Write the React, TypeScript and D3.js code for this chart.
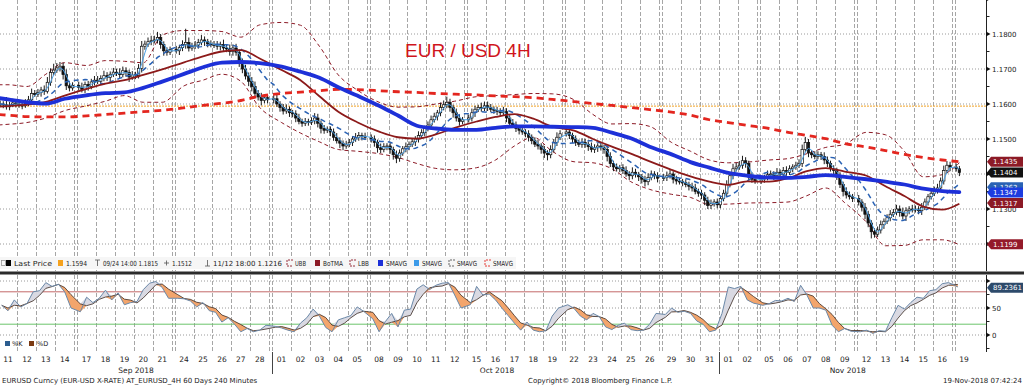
import { useEffect, useRef } from 'react'
import * as d3 from 'd3'

// trading days shown, 6 four-hour bars each (last day partial)
const days = [
  '2018-09-11', '2018-09-12', '2018-09-13', '2018-09-14', '2018-09-17', '2018-09-18', '2018-09-19', '2018-09-20', '2018-09-21',
  '2018-09-24', '2018-09-25', '2018-09-26', '2018-09-27', '2018-09-28',
  '2018-10-01', '2018-10-02', '2018-10-03', '2018-10-04', '2018-10-05',
  '2018-10-08', '2018-10-09', '2018-10-10', '2018-10-11', '2018-10-12',
  '2018-10-15', '2018-10-16', '2018-10-17', '2018-10-18', '2018-10-19',
  '2018-10-22', '2018-10-23', '2018-10-24', '2018-10-25', '2018-10-26',
  '2018-10-29', '2018-10-30', '2018-10-31',
  '2018-11-01', '2018-11-02',
  '2018-11-05', '2018-11-06', '2018-11-07', '2018-11-08', '2018-11-09',
  '2018-11-12', '2018-11-13', '2018-11-14', '2018-11-15', '2018-11-16',
  '2018-11-19',
]
const monthNames: Record<string, string> = { '2018-09': 'Sep 2018', '2018-10': 'Oct 2018', '2018-11': 'Nov 2018' }

// 4H closes, pips above 1.1000
const closes = [
  600, 598, 592, 597, 603, 600, 597, 595, 602, 612, 630, 628, 633, 640, 636, 662, 690, 697,
  703, 708, 684, 652, 646, 653, 648, 641, 656, 650, 663, 668, 665, 673, 681, 676, 685, 691,
  688, 684, 695, 690, 677, 683, 681, 702, 765, 771, 778, 781, 783, 790, 770, 752, 748, 756,
  752, 761, 770, 776, 760, 765, 768, 776, 783, 778, 772, 770, 768, 765, 770, 760, 758, 750,
  760, 748, 720, 700, 680, 665, 650, 630, 620, 610, 618, 612,
  615, 600, 590, 580, 585, 575, 572, 560, 550, 545, 550, 548, 552, 560, 545, 530, 525, 528,
  520, 505, 495, 488, 480, 485, 490, 500, 505, 510, 508, 505,
  500, 490, 475, 470, 478, 480, 470, 455, 445, 460, 472, 478, 485, 492, 500, 510, 518, 530,
  540, 555, 565, 575, 590, 598, 605, 590, 575, 560, 550, 555,
  560, 575, 585, 590, 588, 595, 590, 585, 582, 580, 575, 578, 560, 545, 540, 530, 525, 520,
  515, 505, 495, 485, 480, 470, 460, 455, 470, 490, 505, 515,
  520, 510, 500, 490, 485, 490, 485, 478, 470, 475, 480, 475, 470, 450, 430, 420, 415, 418,
  410, 400, 395, 405, 398, 392, 385, 378, 390, 400, 395, 388,
  390, 395, 400, 385, 380, 378, 375, 370, 365, 360, 350, 345, 340, 325, 310, 315, 320, 312,
  330, 345, 370, 395, 415, 420, 425, 438, 430, 395, 385, 380,
  385, 390, 398, 400, 395, 405, 400, 410, 405, 415, 420, 425, 430, 470, 490, 460, 455, 450,
  455, 450, 440, 430, 415, 410, 395, 370, 350, 340, 335, 330,
  320, 305, 285, 260, 235, 228, 240, 255, 265, 275, 285, 290, 300, 290, 280, 295, 300, 298,
  300, 295, 305, 320, 335, 345, 354, 360, 380, 410, 425, 420,
  415, 404,
]
// wick lengths above / below each body, pips
const wickUp = [
  10, 8, 22, 9, 12, 8, 9, 7, 12, 11, 14, 10, 10, 9, 13, 15, 12, 18, 14, 12, 10, 15, 12, 9,
  11, 13, 8, 10, 9, 12, 12, 9, 14, 10, 8, 12, 10, 14, 12, 10, 8, 11, 9, 12, 15, 10, 12, 14,
  12, 16, 10, 9, 10, 8, 10, 8, 12, 39, 14, 10, 12, 10, 14, 10, 8, 10, 10, 12, 8, 14, 10, 12,
  10, 12, 8, 10, 12, 10, 12, 14, 10, 12, 10, 8,
  10, 12, 8, 10, 14, 8, 8, 10, 12, 8, 10, 8, 10, 14, 12, 8, 10, 8, 8, 10, 12, 10, 8, 10,
  10, 8, 12, 10, 8, 10,
  8, 10, 8, 12, 10, 8, 10, 8, 12, 10, 8, 12, 8, 10, 8, 12, 10, 8, 10, 12, 10, 8, 14, 12,
  16, 10, 8, 12, 10, 8,
  10, 12, 10, 8, 14, 12, 12, 10, 8, 10, 8, 14, 10, 8, 12, 10, 8, 10, 8, 10, 8, 10, 12, 8,
  10, 8, 12, 10, 14, 10,
  12, 10, 8, 10, 8, 12, 10, 8, 12, 10, 8, 10, 8, 10, 12, 8, 10, 8, 10, 12, 8, 14, 10, 8,
  8, 10, 12, 10, 8, 10,
  10, 12, 14, 8, 10, 8, 8, 10, 8, 10, 12, 8, 10, 8, 10, 12, 8, 10,
  8, 10, 12, 10, 14, 12, 12, 14, 10, 8, 10, 8,
  10, 8, 12, 10, 8, 12, 8, 10, 12, 10, 8, 10, 12, 14, 16, 10, 8, 10, 10, 8, 12, 10, 8, 10,
  8, 10, 8, 12, 10, 8,
  10, 8, 12, 10, 8, 10, 10, 12, 8, 10, 12, 10, 12, 10, 14, 10, 8, 12, 10, 8, 12, 10, 8, 10,
  10, 12, 10, 14, 12, 10,
  10, 8,
]
const wickDn = [
  8, 10, 8, 10, 6, 10, 8, 10, 6, 8, 10, 8, 8, 12, 10, 6, 10, 8, 8, 10, 14, 12, 10, 8,
  10, 8, 10, 12, 8, 10, 8, 10, 8, 10, 12, 8, 8, 10, 8, 12, 14, 8, 10, 8, 12, 10, 8, 10,
  8, 10, 12, 14, 10, 8, 8, 12, 10, 12, 10, 8, 8, 10, 8, 12, 10, 8, 8, 10, 12, 8, 10, 12,
  12, 10, 14, 12, 10, 14, 14, 12, 10, 14, 8, 10,
  10, 8, 12, 10, 8, 12, 10, 12, 8, 10, 8, 10, 8, 10, 12, 14, 10, 8, 12, 10, 8, 14, 12, 8,
  8, 10, 8, 10, 12, 8,
  10, 12, 14, 10, 8, 10, 12, 14, 14, 10, 8, 10, 10, 8, 12, 10, 8, 10, 8, 10, 8, 12, 10, 8,
  10, 12, 14, 10, 12, 8,
  8, 10, 12, 8, 10, 8, 10, 8, 10, 12, 10, 8, 12, 10, 8, 10, 12, 8, 10, 12, 10, 8, 10, 12,
  14, 16, 10, 8, 10, 8,
  8, 10, 12, 10, 8, 10, 10, 12, 8, 10, 12, 8, 12, 14, 10, 12, 8, 10, 10, 8, 12, 10, 8, 12,
  12, 14, 10, 8, 10, 12,
  8, 10, 8, 12, 10, 8, 10, 8, 12, 10, 8, 10, 12, 14, 10, 10, 8, 10,
  10, 8, 10, 8, 10, 8, 8, 10, 12, 14, 10, 8,
  8, 10, 8, 10, 12, 8, 10, 8, 10, 8, 10, 8, 8, 10, 8, 12, 10, 8, 8, 10, 12, 10, 8, 10,
  12, 10, 14, 10, 8, 10,
  10, 12, 14, 12, 19, 10, 8, 10, 12, 8, 10, 8, 8, 12, 10, 14, 10, 8, 8, 10, 12, 8, 10, 8,
  8, 10, 8, 10, 8, 12,
  8, 10,
]

// indicator lines, read at window start, at each day's middle and at the last bar
const smavgBlue = [
  1.1617, 1.1613, 1.1605, 1.1601, 1.1615, 1.1625, 1.1631, 1.1633, 1.1646, 1.1664,
  1.1686, 1.1705, 1.1718, 1.172, 1.1717,
  1.1707, 1.1692, 1.1675, 1.1648, 1.1624,
  1.1595, 1.1567, 1.1538, 1.153, 1.1526,
  1.1526, 1.1532, 1.1536, 1.1536, 1.1535,
  1.1534, 1.1532, 1.1518, 1.1502, 1.1478,
  1.1456, 1.1434, 1.1418,
  1.1403, 1.1395,
  1.139, 1.1389, 1.1392, 1.1397, 1.1392,
  1.1385, 1.1378, 1.137, 1.1358, 1.1351,
  1.1348,
]
const botma = [
  1.1592, 1.1594, 1.1598, 1.1606, 1.1624, 1.1643, 1.1658, 1.1668, 1.1683, 1.1699,
  1.1719, 1.1736, 1.175, 1.1754, 1.173,
  1.1697, 1.1668, 1.1622, 1.1578, 1.1548,
  1.1521, 1.1505, 1.1501, 1.1513, 1.1532,
  1.155, 1.1563, 1.1571, 1.1558, 1.1535,
  1.1524, 1.15, 1.1478, 1.1458, 1.1436,
  1.1412, 1.1393, 1.1378,
  1.1369, 1.1379,
  1.1378, 1.1388, 1.1408, 1.1417, 1.1407,
  1.1395, 1.1365, 1.1337, 1.1307, 1.1298,
  1.1315,
]
const ubb = [
  1.1655, 1.1655, 1.165, 1.1685, 1.1718, 1.171, 1.1724, 1.1722, 1.1718, 1.1797,
  1.181, 1.181, 1.1807, 1.1791, 1.1826,
  1.1833, 1.1825, 1.1765, 1.1683, 1.164,
  1.1605, 1.1591, 1.1592, 1.16, 1.1608,
  1.1621, 1.1624, 1.1627, 1.163, 1.1629,
  1.1612, 1.157, 1.1543, 1.1544, 1.1536,
  1.149, 1.1465, 1.144,
  1.1432, 1.1434,
  1.144, 1.1444, 1.1458, 1.1476, 1.1485,
  1.1519, 1.1512, 1.1465, 1.1392, 1.1398,
  1.1432,
]
const lbb = [
  1.154, 1.1542, 1.1547, 1.156, 1.1581, 1.1595, 1.1608, 1.1624, 1.1605, 1.1605,
  1.1652, 1.1668, 1.1685, 1.1665, 1.159,
  1.1547, 1.1517, 1.1492, 1.147, 1.1465,
  1.1458, 1.1447, 1.143, 1.1416, 1.1412,
  1.1418, 1.144, 1.148, 1.1505, 1.1465,
  1.1435, 1.1432, 1.1415, 1.1378, 1.1356,
  1.1342, 1.1333, 1.1313,
  1.1314, 1.1317,
  1.1318, 1.132, 1.1338, 1.136, 1.1318,
  1.1262, 1.1195, 1.1196, 1.1212, 1.1212,
  1.1198,
]
const smavgRed = [
  1.157, 1.1568, 1.1564, 1.1563, 1.1563, 1.1566, 1.157, 1.1574, 1.1578, 1.1582,
  1.1589, 1.1596, 1.1602, 1.161, 1.1622,
  1.163, 1.1634, 1.1638, 1.1642, 1.1641,
  1.1638, 1.1635, 1.1633, 1.163, 1.1628,
  1.1626, 1.1623, 1.1621, 1.1618, 1.1613,
  1.1607, 1.1601, 1.1596, 1.159, 1.1584,
  1.1577, 1.1568, 1.1555,
  1.1547, 1.1539,
  1.153, 1.1519, 1.151, 1.1501, 1.1487,
  1.1477, 1.1467, 1.1456, 1.1447, 1.144,
  1.1435,
]

// stochastic %K, three readings per day
const stochK = [
  55, 45, 65, 52, 58, 80, 82, 97, 90, 94, 80, 50, 43, 70, 60, 68, 83, 65, 78, 56, 60, 62, 84, 96, 99, 88, 68,
  68, 67, 63, 52, 60, 45, 42, 24, 32, 20, 6, 12, 6, 9, 18,
  16, 13, 9, 6, 22, 32, 48, 35, 14, 6, 28, 32, 36, 52, 44,
  30, 6, 25, 40, 15, 46, 48, 85, 93, 84, 92, 96, 97, 74, 50,
  56, 90, 74, 76, 65, 50, 36, 22, 9, 24, 9, 6, 8, 35, 50,
  56, 49, 35, 28, 40, 34, 15, 10, 18, 22, 10, 8, 9, 20, 40,
  38, 50, 42, 44, 40, 26, 20, 6, 9,
  40, 89, 86, 90, 65, 59,
  55, 58, 64, 63, 68, 62, 92, 74, 50, 50, 46, 18, 6, 12, 7,
  6, 9, 3, 8, 7, 32, 55, 48, 60, 70, 68, 82, 84, 95, 97,
  89,
]

const priceTicks = [1.12, 1.13, 1.14, 1.15, 1.16, 1.17, 1.18, 1.19]
const stochTicks = [0, 50, 100]
const stochLabels = [0, 50]
const refLevel = 1.1594

const priceTags = [
  { v: 1.1435, c: '#8c1a26' },
  { v: 1.1404, c: '#111111' },
  { v: 1.1362, c: '#2a62b4' },
  { v: 1.1347, c: '#1d3ce0' },
  { v: 1.1317, c: '#8c1a26' },
  { v: 1.1199, c: '#941a2a' },
]
const stochTag = { v: 89.2361, c: '#2d4a6b' }

const legendItems = [
  { icon: 'sq', c: '#000000', text: 'Last Price', x: 6, w: 38 },
  { icon: 'sq', c: '#f5a21e', text: '1.1594', x: 58, w: 21 },
  { icon: 'hi', c: '#555555', text: '09/24 14:00 1.1815', x: 95, w: 55 },
  { icon: 'plus', c: '#555555', text: '1.1512', x: 164, w: 20 },
  { icon: 'lo', c: '#555555', text: '11/12 18:00 1.1216', x: 205, w: 69 },
  { icon: 'dash', c: '#8c1a26', text: 'UBB', x: 287, w: 11 },
  { icon: 'sq', c: '#8c1a26', text: 'BoTMA', x: 315, w: 20 },
  { icon: 'dash', c: '#8c1a26', text: 'LBB', x: 350, w: 11 },
  { icon: 'sq', c: '#1d30d8', text: 'SMAVG', x: 378, w: 21 },
  { icon: 'sq', c: '#3d9be9', text: 'SMAVG', x: 414, w: 20 },
  { icon: 'dash', c: '#555555', text: 'SMAVG', x: 449, w: 20 },
  { icon: 'dash', c: '#e3261f', text: 'SMAVG', x: 485, w: 20 },
]

const FONT = "'DejaVu Sans', Verdana, sans-serif"

export default function App() {
  const svgRef = useRef<SVGSVGElement>(null)

  useEffect(() => {
    if (!svgRef.current) return
    const svg = d3.select(svgRef.current)
    svg.selectAll('*').remove()

    const axisX = 986
    const mainBottom = 271
    const stTop = 275
    const stBottom = 352
    const gapU = 3 / 18.9

    // day start in "day units"; weekends leave a small gap
    let wk = 0
    const dayStart = days.map((d, i) => {
      if (i > 0 && Date.parse(d) - Date.parse(days[i - 1]) > 86400000) wk++
      return i + wk * gapU
    })
    const x = d3.scaleLinear().domain([0, 1]).range([-1.45, 17.45])
    const y = d3.scaleLinear().domain([1.12, 1.18]).range([244, 34])
    const yS = d3.scaleLinear().domain([0, 100]).range([335, 281])
    const px = (p: number) => 1.1 + p / 10000

    const barPos = closes.map((_, b) => dayStart[Math.floor(b / 6)] + ((b % 6) + 0.5) / 6)
    const lastDay = days.length - 1
    const indPos = [0, ...dayStart.slice(0, lastDay).map(s => s + 0.5), barPos[barPos.length - 1]]
    const kPos = stochK.map((_, s) => dayStart[Math.floor(s / 3)] + ((s % 3) + 0.5) / 3)

    svg.append('rect').attr('width', 1024).attr('height', 385).attr('fill', '#fff')

    // horizontal grid, main panel
    svg.append('g').selectAll('line').data(priceTicks).join('line')
      .attr('x1', 0).attr('x2', axisX).attr('y1', d => y(d)).attr('y2', d => y(d))
      .attr('stroke', '#9a9a9a').attr('stroke-dasharray', '1,2')

    // vertical day grid (double line across weekends)
    const vlines: number[] = []
    days.forEach((_, i) => {
      if (i === 0) return
      const prevEnd = dayStart[i - 1] + 1
      if (dayStart[i] - prevEnd > 0.01) vlines.push(prevEnd)
      vlines.push(dayStart[i])
    })
    const vg = svg.append('g').attr('stroke', '#a6a6a6').attr('stroke-dasharray', '4,2')
    vlines.forEach(v => {
      const xx = Math.round(x(v)) + 0.5
      vg.append('line').attr('x1', xx).attr('x2', xx).attr('y1', 0).attr('y2', mainBottom)
      vg.append('line').attr('x1', xx).attr('x2', xx).attr('y1', stTop).attr('y2', stBottom)
    })

    // reference price line
    svg.append('line').attr('x1', 0).attr('x2', axisX).attr('y1', y(refLevel)).attr('y2', y(refLevel))
      .attr('stroke', '#f0a020').attr('stroke-dasharray', '2,1')

    svg.append('clipPath').attr('id', 'mainclip').append('rect')
      .attr('x', 0).attr('y', 0).attr('width', axisX).attr('height', 255)
    const main = svg.append('g').attr('clip-path', 'url(#mainclip)')

    const indLine = d3.line<number>().x((_, i) => x(indPos[i])).y(d => y(d)).curve(d3.curveMonotoneX)
    const barLine = d3.line<number>().x((_, i) => x(barPos[i])).y(d => y(px(d)))

    main.append('path').attr('d', indLine(ubb)).attr('fill', 'none')
      .attr('stroke', '#8c1a26').attr('stroke-width', 1).attr('stroke-dasharray', '4,3')
    main.append('path').attr('d', indLine(lbb)).attr('fill', 'none')
      .attr('stroke', '#8c1a26').attr('stroke-width', 1).attr('stroke-dasharray', '4,3')

    // candles
    const cg = main.append('g')
    closes.forEach((c, i) => {
      const o = i === 0 ? c : closes[i - 1]
      const top = Math.max(o, c)
      const bot = Math.min(o, c)
      const cx = x(barPos[i])
      cg.append('line').attr('x1', cx).attr('x2', cx)
        .attr('y1', y(px(top + wickUp[i]))).attr('y2', y(px(bot - wickDn[i])))
        .attr('stroke', '#1a1a1a').attr('stroke-width', 1)
      const y1 = y(px(top))
      const h = Math.max(1, y(px(bot)) - y1)
      cg.append('rect').attr('x', cx - 1.2).attr('y', y1).attr('width', 2.4).attr('height', h)
        .attr('fill', c >= o ? '#fff' : '#111').attr('stroke', '#111').attr('stroke-width', 0.7)
    })

    const sma = (n: number) => closes.map((_, i) => d3.mean(closes.slice(Math.max(0, i - n + 1), i + 1)) as number)
    main.append('path').attr('d', barLine(sma(3))).attr('fill', 'none')
      .attr('stroke', '#4aa0e6').attr('stroke-width', 1)
    main.append('path').attr('d', barLine(sma(12))).attr('fill', 'none')
      .attr('stroke', '#2a62b4').attr('stroke-width', 1.5).attr('stroke-dasharray', '5,4')
    main.append('path').attr('d', indLine(botma)).attr('fill', 'none')
      .attr('stroke', '#8c1a1a').attr('stroke-width', 1.8)
    main.append('path').attr('d', indLine(smavgRed)).attr('fill', 'none')
      .attr('stroke', '#e3261f').attr('stroke-width', 2.8).attr('stroke-dasharray', '7,5')
    main.append('path').attr('d', indLine(smavgBlue)).attr('fill', 'none')
      .attr('stroke', '#1d30d8').attr('stroke-width', 3.8).attr('stroke-linecap', 'round')

    // title
    svg.append('text').attr('x', 405).attr('y', 57).text('EUR / USD 4H')
      .attr('font-family', "'Liberation Sans', Arial, sans-serif").attr('font-size', 19).attr('fill', '#d0141c')

    // legend row
    const lg = svg.append('g').attr('font-family', FONT).attr('font-size', 7).attr('fill', '#222')
    lg.append('rect').attr('x', 0).attr('y', 257).attr('width', 516).attr('height', 12).attr('fill', '#f6f6f6')
    lg.append('rect').attr('x', 1.5).attr('y', 260.5).attr('width', 4).attr('height', 5)
      .attr('fill', 'none').attr('stroke', '#888').attr('stroke-width', 0.7)
    const ly = 263
    legendItems.forEach(it => {
      if (it.icon === 'sq') {
        lg.append('rect').attr('x', it.x).attr('y', ly - 3).attr('width', 5).attr('height', 6).attr('fill', it.c)
      } else if (it.icon === 'dash') {
        lg.append('path').attr('d', `M${it.x + 6},${ly - 3} H${it.x} V${ly + 3} H${it.x + 6}`)
          .attr('fill', 'none').attr('stroke', it.c).attr('stroke-width', 0.9).attr('stroke-dasharray', '2,1')
      } else if (it.icon === 'hi') {
        lg.append('path').attr('d', `M${it.x},${ly - 3} H${it.x + 5} M${it.x + 2.5},${ly - 3} V${ly + 3}`)
          .attr('stroke', it.c).attr('stroke-width', 0.8)
      } else if (it.icon === 'lo') {
        lg.append('path').attr('d', `M${it.x},${ly + 3} H${it.x + 5} M${it.x + 2.5},${ly - 3} V${ly + 3}`)
          .attr('stroke', it.c).attr('stroke-width', 0.8)
      } else {
        lg.append('path').attr('d', `M${it.x},${ly} H${it.x + 5} M${it.x + 2.5},${ly - 2.5} V${ly + 2.5}`)
          .attr('stroke', it.c).attr('stroke-width', 0.8)
      }
      lg.append('text').attr('x', it.x + 8).attr('y', ly + 2.5).text(it.text)
        .attr('textLength', it.w).attr('lengthAdjust', 'spacingAndGlyphs')
    })

    // panel separator
    svg.append('rect').attr('x', 0).attr('y', 271.5).attr('width', 1024).attr('height', 3).attr('fill', '#2b2b2b')

    // stochastic panel
    const sg = svg.append('g')
    sg.selectAll('line.g').data(stochTicks).join('line').attr('class', 'g')
      .attr('x1', 0).attr('x2', axisX).attr('y1', d => yS(d)).attr('y2', d => yS(d))
      .attr('stroke', '#9a9a9a').attr('stroke-dasharray', '1,2')
    sg.append('line').attr('x1', 0).attr('x2', axisX).attr('y1', yS(80)).attr('y2', yS(80))
      .attr('stroke', '#c46a6a').attr('stroke-width', 1)
    sg.append('line').attr('x1', 0).attr('x2', axisX).attr('y1', yS(20)).attr('y2', yS(20))
      .attr('stroke', '#6cc46c').attr('stroke-width', 1)

    const stochD = stochK.map((_, i) => d3.mean(stochK.slice(Math.max(0, i - 2), i + 1)) as number)
    const areaUp = d3.area<number>().x((_, i) => x(kPos[i]))
      .y0((_, i) => yS(stochD[i])).y1((k, i) => yS(Math.max(k, stochD[i])))
    const areaDn = d3.area<number>().x((_, i) => x(kPos[i]))
      .y0((_, i) => yS(stochD[i])).y1((k, i) => yS(Math.min(k, stochD[i])))
    sg.append('path').attr('d', areaUp(stochK)).attr('fill', '#d9d9e2')
    sg.append('path').attr('d', areaDn(stochK)).attr('fill', '#f3a56c')
    const kLine = d3.line<number>().x((_, i) => x(kPos[i])).y(d => yS(d))
    sg.append('path').attr('d', kLine(stochD)).attr('fill', 'none').attr('stroke', '#3a2a22').attr('stroke-width', 0.8)
    sg.append('path').attr('d', kLine(stochK)).attr('fill', 'none').attr('stroke', '#6a88a8').attr('stroke-width', 1)

    const sl = svg.append('g').attr('font-family', FONT).attr('font-size', 6.5).attr('fill', '#222')
    sl.append('rect').attr('x', 5).attr('y', 341).attr('width', 5).attr('height', 5).attr('fill', '#2c5d8f')
    sl.append('text').attr('x', 12).attr('y', 346).text('%K')
    sl.append('rect').attr('x', 29).attr('y', 341).attr('width', 5).attr('height', 5).attr('fill', '#7b3a12')
    sl.append('text').attr('x', 37).attr('y', 346).text('%D')

    // right axes
    const ax = svg.append('g').attr('font-family', FONT).attr('font-size', 7).attr('fill', '#222')
    ax.append('line').attr('x1', axisX + 0.5).attr('x2', axisX + 0.5).attr('y1', 0).attr('y2', 271)
      .attr('stroke', '#222')
    ax.append('line').attr('x1', axisX + 0.5).attr('x2', axisX + 0.5).attr('y1', stTop).attr('y2', stBottom)
      .attr('stroke', '#222')
    const tri = (yy: number) => `M${axisX},${yy - 2.5} L${axisX + 4.5},${yy} L${axisX},${yy + 2.5} Z`
    priceTicks.forEach(t => {
      ax.append('path').attr('d', tri(y(t))).attr('fill', '#111')
      ax.append('line').attr('x1', axisX).attr('x2', axisX + 3.5)
        .attr('y1', y(t + 0.005)).attr('y2', y(t + 0.005)).attr('stroke', '#222')
      // the top tick sits on the panel edge and carries no label
      if (y(t) > 10) ax.append('text').attr('x', 992).attr('y', y(t) + 2.5).text(d3.format('.4f')(t))
    })
    stochTicks.forEach(t => {
      ax.append('path').attr('d', tri(yS(t))).attr('fill', '#111')
    })
    stochLabels.forEach(t => {
      ax.append('text').attr('x', 992).attr('y', yS(t) + 2.5).text(String(t))
    })
    ;[25, 75, -25].forEach(t => {
      ax.append('line').attr('x1', axisX).attr('x2', axisX + 3.5)
        .attr('y1', yS(t)).attr('y2', yS(t)).attr('stroke', '#222')
    })

    const tag = (yy: number, c: string, label: string) => {
      ax.append('path')
        .attr('d', `M${axisX + 1},${yy} L${axisX + 5},${yy - 5} H1023 V${yy + 5} H${axisX + 5} Z`)
        .attr('fill', c)
      ax.append('text').attr('x', 993).attr('y', yy + 2.6).text(label).attr('fill', '#fff')
    }
    priceTags.forEach(t => tag(y(t.v), t.c, d3.format('.4f')(t.v)))
    tag(yS(stochTag.v) + 1, stochTag.c, d3.format('.4f')(stochTag.v))

    // date axis
    const dg = svg.append('g').attr('font-family', FONT).attr('font-size', 7.5).attr('fill', '#222')
      .attr('text-anchor', 'middle')
    days.forEach((d, i) => {
      dg.append('text').attr('x', x(dayStart[i] + 0.5)).attr('y', 362).text(d.slice(8))
    })
    const monthKeys = Array.from(new Set(days.map(d => d.slice(0, 7))))
    monthKeys.forEach(m => {
      const idx = days.map((d, i) => (d.startsWith(m) ? i : -1)).filter(i => i >= 0)
      const a = Math.max(0, x(dayStart[idx[0]]))
      const b = x(dayStart[idx[idx.length - 1]] + 1)
      dg.append('text').attr('x', (a + b) / 2 + 1.5).attr('y', 373).text(monthNames[m])
      if (idx[0] > 0) {
        const xx = Math.round(x(dayStart[idx[0]])) + 0.5
        svg.append('line').attr('x1', xx).attr('x2', xx).attr('y1', 352).attr('y2', 374)
          .attr('stroke', '#444')
      }
    })

    // footer
    const ft = svg.append('g').attr('font-family', FONT).attr('font-size', 7).attr('fill', '#222')
    ft.append('text').attr('x', 2).attr('y', 383).text('EURUSD Curncy (EUR-USD X-RATE) AT_EURUSD_4H 60 Days 240 Minutes')
    ft.append('text').attr('x', 528).attr('y', 383).text('Copyright\u00a9 2018 Bloomberg Finance L.P.')
    ft.append('text').attr('x', 1022).attr('y', 383).attr('text-anchor', 'end').text('19-Nov-2018 07:42:24')
  }, [])

  return (
    <div style={{ position: 'absolute', left: 0, top: 0 }}>
      <svg ref={svgRef} width={1024} height={385} style={{ display: 'block' }}></svg>
    </div>
  )
}
